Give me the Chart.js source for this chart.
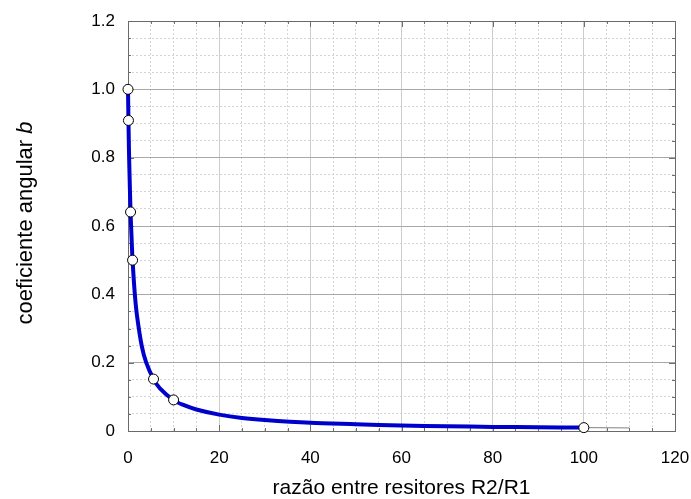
<!DOCTYPE html>
<html>
<head>
<meta charset="utf-8">
<script src="https://cdn.jsdelivr.net/npm/chart.js@4"></script>
<style>
  html, body { margin: 0; padding: 0; background: #fff; }
  #wrap { width: 691px; height: 499px; }
</style>
</head>
<body>
<div id="wrap"><canvas id="c" width="691" height="499"></canvas></div>
<script>
// razão R2/R1 and coeficiente angular b
const ratio = [0, 0.1, 0.2, 0.3, 0.56, 0.8, 1, 1.5, 2, 3, 4, 5.6, 7, 10, 12, 15, 20, 25, 30, 40, 50, 60, 70, 80, 90, 100];
const coef  = [1.0, 0.91, 0.83, 0.77, 0.64, 0.56, 0.5, 0.4, 0.335, 0.25, 0.2, 0.152, 0.125, 0.09, 0.077, 0.063, 0.048, 0.038, 0.032, 0.024, 0.02, 0.016, 0.014, 0.012, 0.011, 0.0099];
// measured points (markers)
const markR = [0, 0.1, 0.56, 1, 5.6, 10, 100];
const markB = [1.0, 0.909, 0.641, 0.5, 0.152, 0.091, 0.0099];
// thin grey tail after the last point
const tailR = [100, 110];
const tailB = [0.0099, 0.009];

const xTitle = 'razão entre resitores R2/R1';
const yTitle = 'coeficiente angular ';
const yTitleItalic = 'b';

const FONT = '"Liberation Sans", Arial, Helvetica, sans-serif';

const frame = {
  id: 'frame',
  beforeDatasetsDraw(chart) {
    const { ctx, chartArea: a, scales } = chart;
    const x = scales.x, y = scales.y;
    ctx.save();
    // inward ticks
    ctx.strokeStyle = '#707070';
    ctx.lineWidth = 1;
    ctx.beginPath();
    for (let v = 0; v <= 120; v += 5) {
      const px = Math.round(x.getPixelForValue(v)) + 0.5;
      const len = v % 20 === 0 ? 6 : 3;
      ctx.moveTo(px, a.bottom); ctx.lineTo(px, a.bottom - len);
      ctx.moveTo(px, a.top); ctx.lineTo(px, a.top + len);
    }
    for (let i = 0; i <= 24; i++) {
      const py = Math.round(y.getPixelForValue(i * 0.05)) + 0.5;
      const len = i % 4 === 0 ? 6 : 3;
      ctx.moveTo(a.left, py); ctx.lineTo(a.left + len, py);
      ctx.moveTo(a.right, py); ctx.lineTo(a.right - len, py);
    }
    ctx.stroke();
    // box
    ctx.strokeStyle = '#6a6a6a';
    ctx.strokeRect(Math.round(a.left) + 0.5, Math.round(a.top) + 0.5,
      Math.round(a.right - a.left), Math.round(a.bottom - a.top));
    ctx.restore();
  },
  afterDraw(chart) {
    const { ctx, chartArea: a } = chart;
    ctx.save();
    ctx.fillStyle = '#000';
    ctx.textBaseline = 'middle';
    ctx.textAlign = 'center';
    ctx.font = '21px ' + FONT;
    ctx.fillText(xTitle, (a.left + a.right) / 2, 488);

    ctx.translate(26, 223);
    ctx.rotate(-Math.PI / 2);
    ctx.textAlign = 'left';
    ctx.font = '22px ' + FONT;
    const w1 = ctx.measureText(yTitle).width;
    ctx.font = 'italic 22px ' + FONT;
    const w2 = ctx.measureText(yTitleItalic).width;
    const start = -(w1 + w2) / 2;
    ctx.font = '22px ' + FONT;
    ctx.fillText(yTitle, start, 0);
    ctx.font = 'italic 22px ' + FONT;
    ctx.fillText(yTitleItalic, start + w1, 0);
    ctx.restore();
  }
};

const minorColor = c => (c.tick && Math.abs(c.tick.value / 20 - Math.round(c.tick.value / 20)) < 1e-6) ? 'rgba(0,0,0,0)' : '#d4d4d4';
const minorColorY = c => (c.tick && Math.abs(c.tick.value / 0.2 - Math.round(c.tick.value / 0.2)) < 1e-6) ? 'rgba(0,0,0,0)' : '#d4d4d4';

new Chart(document.getElementById('c'), {
  type: 'line',
  data: {
    datasets: [
      {
        data: ratio.map((r, i) => ({ x: r, y: coef[i] })),
        borderColor: '#0000cc',
        borderWidth: 4,
        pointRadius: 0,
        tension: 0.3,
        order: 3
      },
      {
        data: tailR.map((r, i) => ({ x: r, y: tailB[i] })),
        borderColor: '#808080',
        borderWidth: 1,
        pointRadius: 0,
        order: 2
      },
      {
        data: markR.map((r, i) => ({ x: r, y: markB[i] })),
        showLine: false,
        pointRadius: 5,
        pointBackgroundColor: '#fff',
        pointBorderColor: '#000',
        pointBorderWidth: 1,
        order: 1
      }
    ]
  },
  options: {
    responsive: false,
    animation: false,
    events: [],
    layout: { padding: { top: 21, right: 16, left: 0, bottom: 0 } },
    plugins: { legend: { display: false }, tooltip: { enabled: false } },
    clip: false,
    scales: {
      xMinor: {
        type: 'linear', position: 'bottom', min: 0, max: 120,
        ticks: { display: false, stepSize: 5 },
        grid: { color: minorColor, drawTicks: false, lineWidth: 1 },
        border: { display: false, dash: [2, 2] },
        afterFit(s) { s.height = 0; s.paddingLeft = 0; s.paddingRight = 0; }
      },
      yMinor: {
        type: 'linear', position: 'left', min: 0, max: 1.2,
        ticks: { display: false, stepSize: 0.05 },
        grid: { color: minorColorY, drawTicks: false, lineWidth: 1 },
        border: { display: false, dash: [2, 2] },
        afterFit(s) { s.width = 0; s.paddingTop = 0; s.paddingBottom = 0; }
      },
      x: {
        type: 'linear', position: 'bottom', min: 0, max: 120,
        ticks: {
          stepSize: 20, color: '#000', padding: 17,
          font: { family: FONT, size: 17 }
        },
        grid: { color: '#cccccc', drawTicks: false },
        border: { display: false },
        afterFit(s) { s.height = 68; s.paddingLeft = 0; s.paddingRight = 0; }
      },
      y: {
        type: 'linear', position: 'left', min: 0, max: 1.2,
        ticks: {
          stepSize: 0.2, color: '#000', padding: 13,
          font: { family: FONT, size: 17 },
          callback: v => (Math.abs(v) < 1e-9 ? '0' : v.toFixed(1))
        },
        grid: { color: '#a8a8a8', drawTicks: false },
        border: { display: false },
        afterFit(s) { s.width = 128; s.paddingTop = 0; s.paddingBottom = 0; }
      }
    }
  },
  plugins: [frame]
});
</script>
</body>
</html>
